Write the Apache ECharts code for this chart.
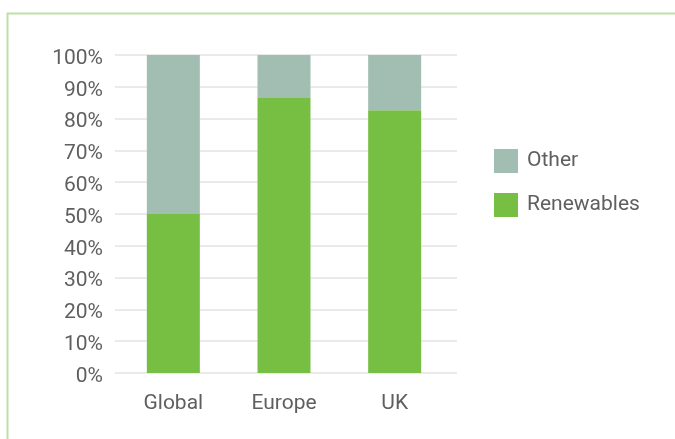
<!DOCTYPE html>
<html><head><meta charset="utf-8">
<script src="https://cdn.jsdelivr.net/npm/echarts@6/dist/echarts.min.js"></script>
<style>html,body{margin:0;padding:0;background:#fff;}#c{width:675px;height:439px;}</style>
</head><body><div id="c"></div>
<script>
const categories = ['Global', 'Europe', 'UK'];
const renewables = [50, 86.7, 82.6];
const other = [50, 13.3, 17.4];
const yTicks = [0, 10, 20, 30, 40, 50, 60, 70, 80, 90, 100];

const chart = echarts.init(document.getElementById('c'));
const font = 'Roboto';
chart.setOption({
  animation: false,
  graphic: [{
    type: 'rect', left: 5, top: 11,
    shape: { width: 800, height: 600 },
    style: { fill: 'none', stroke: '#bde0a6', lineWidth: 2 }
  }],
  grid: [
    { left: 118, top: 55, width: 332, height: 318 },
    { left: 115, top: 55, width: 342, height: 318 }
  ],
  legend: {
    orient: 'vertical', left: 494, top: 149, padding: 0,
    itemWidth: 24, itemHeight: 24, itemGap: 20,
    icon: 'rect',
    data: ['Other', 'Renewables'],
    textStyle: { fontFamily: font, fontSize: 21, color: '#5f5f5f', padding: [0, 0, 0, 4] }
  },
  xAxis: [{
    type: 'category', data: categories, gridIndex: 0,
    axisLine: { show: false }, axisTick: { show: false },
    axisLabel: { fontFamily: font, fontSize: 21, color: '#5f5f5f', margin: 20 }
  }, {
    type: 'value', gridIndex: 1, show: false, min: 0, max: 1
  }],
  yAxis: [{
    type: 'value', gridIndex: 0, min: yTicks[0], max: yTicks[yTicks.length - 1], interval: 10, z: 3,
    axisLine: { show: false }, axisTick: { show: false },
    axisLabel: { fontFamily: font, fontSize: 21, color: '#5f5f5f', margin: 15, verticalAlign: 'top', lineHeight: 7, formatter: v => v + '%' },
    splitLine: { show: false }
  }, {
    type: 'value', gridIndex: 1, min: yTicks[0], max: yTicks[yTicks.length - 1], interval: 10, z: 0,
    axisLine: { show: false }, axisTick: { show: false }, axisLabel: { show: false },
    splitLine: { lineStyle: { color: '#e3e3e3', width: 1.5 } }
  }],
  series: [
    { name: 'Renewables', type: 'bar', stack: 's', data: renewables, barWidth: 53, z: 5, itemStyle: { color: '#76bf43' } },
    { name: 'Other', type: 'bar', stack: 's', data: other, barWidth: 53, z: 5, itemStyle: { color: '#a2bdb1' } }
  ]
});
</script></body></html>
